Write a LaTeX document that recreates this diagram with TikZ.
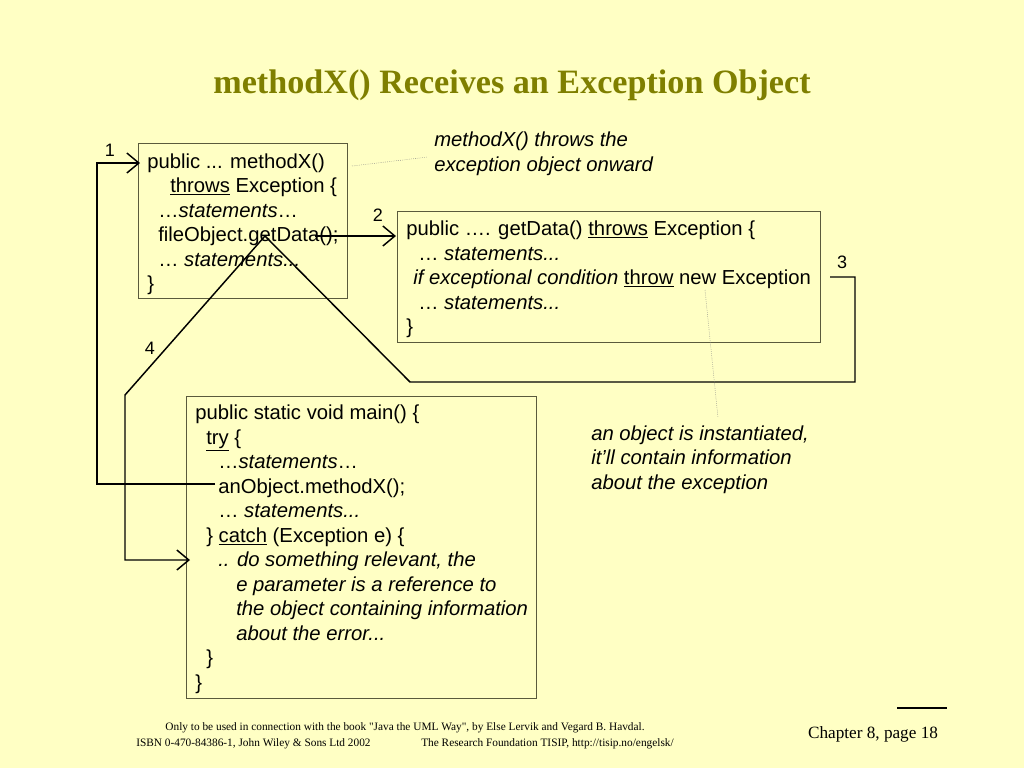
\documentclass[tikz,border=0pt]{standalone}
\usepackage{fontspec}
\setmainfont{Liberation Sans}
\newfontfamily\serif{Liberation Serif}
\usetikzlibrary{arrows.meta}
\definecolor{bg}{HTML}{FFFFC4}
\definecolor{ttl}{HTML}{7F7F00}
\definecolor{bx}{HTML}{5A5A3C}
\newcommand{\ul}[1]{\underline{#1}}
\begin{document}
\begin{tikzpicture}[x=0.75pt,y=-0.75pt,
  ln/.style={anchor=base west,inner sep=0pt,font=\fontsize{15.2}{17}\selectfont},
  box/.style={draw=bx,line width=0.6pt},
  conn/.style={line width=1.1pt,black},
  arr/.style={conn,-{Straight Barb[length=9pt,width=15pt,line width=1.1pt]}},
  dot/.style={densely dotted,line width=0.4pt,gray},
  num/.style={font=\fontsize{13.5}{15}\selectfont,inner sep=0pt}]
\fill[bg] (0,0) rectangle (1024,768);
\useasboundingbox (0,0) rectangle (1024,768);
\node[font=\serif\bfseries\fontsize{25.6}{30}\selectfont,text=ttl] (title) at (512,85) {methodX() Receives an Exception Object};
\draw[box] (138,143) rectangle (347,298);
\draw[box] (397,211) rectangle (820,342);
\draw[box] (186,396) rectangle (536,698);
% box1
\node[ln] (a1) at (147,168) {public ... methodX()};
\node[ln] (a2) at (170,192) {\ul{throws} Exception \{};
\node[ln] (a3) at (158,217) {\dots\textit{statements}\dots};
\node[ln] (a4) at (158,241) {fileObject.getData();};
\node[ln] (a5) at (158,266) {\dots\ \textit{statements...}};
\node[ln] (a6) at (147,290) {\}};
% box2
\node[ln] (b1) at (406,235) {public \dots. getData() \ul{throws} Exception \{};
\node[ln] (b2) at (418,260) {\dots\ \textit{statements...}};
\node[ln] (b3) at (413,284) {\textit{if exceptional condition} \ul{throw} new Exception};
\node[ln] (b4) at (418,309) {\dots\ \textit{statements...}};
\node[ln] (b5) at (406,333) {\}};
% box3
\node[ln] (c1) at (195,419) {public static void main() \{};
\node[ln] (c2) at (206,444) {\ul{try} \{};
\node[ln] (c3) at (218,468) {\dots\textit{statements}\dots};
\node[ln] (c4) at (218,493) {anObject.methodX();};
\node[ln] (c5) at (218,517) {\dots\ \textit{statements...}};
\node[ln] (c6) at (206,542) {\} \ul{catch} (Exception e) \{};
\node[ln] (c7) at (218,566) {\textit{.. do something relevant, the}};
\node[ln] (c8) at (236,591) {\textit{e parameter is a reference to}};
\node[ln] (c9) at (236,615) {\textit{the object containing information}};
\node[ln] (c10) at (236,640) {\textit{about the error...}};
\node[ln] (c11) at (206,664) {\}};
\node[ln] (c12) at (195,689) {\}};
% notes
\node[ln] (n1) at (434,146) {\textit{methodX() throws the}};
\node[ln] (n2) at (434,171) {\textit{exception object onward}};
\node[ln] (m1) at (591,440) {\textit{an object is instantiated,}};
\node[ln] (m2) at (591,464) {\textit{it’ll contain information}};
\node[ln] (m3) at (591,489) {\textit{about the exception}};
% numbers
\node[num] (k1) at (110,150) {1};
\node[num] (k2) at (378,215) {2};
\node[num] (k3) at (842,262) {3};
\node[num] (k4) at (150,348) {4};
% coordinates
\coordinate (p1s) at (215,484);
\coordinate (p1e) at (140,163);
\coordinate (p2s) at (315,236);
\coordinate (p2e) at (396,236);
\coordinate (p3s) at (830,277);
\coordinate (apex) at (265,236);
\coordinate (p3e) at (190,560);
\coordinate (d1s) at (352,166);
\coordinate (d1e) at (428,157);
\coordinate (d2s) at (705,290);
\coordinate (d2e) at (718,418);
\draw[arr] (p1s) -- (97,484) -- (97,163) -- (p1e);
\draw[arr] (p2s) -- (p2e);
\draw[arr] (p3s) -- (855,277) -- (855,382) -- (410,382) -- (apex) -- (125,395) -- (125,560) -- (p3e);
\draw[dot] (d1s) -- (d1e);
\draw[dot] (d2s) -- (d2e);
% footer
\node[font=\serif\fontsize{8.5}{10}\selectfont,inner sep=0pt] (f1) at (405,728) {Only to be used in connection with the book "Java the UML Way", by Else Lervik and Vegard B. Havdal.};
\node[font=\serif\fontsize{8.5}{10}\selectfont,inner sep=0pt,anchor=west] (f2) at (136,744) {ISBN 0-470-84386-1, John Wiley \& Sons Ltd 2002};
\node[font=\serif\fontsize{8.5}{10}\selectfont,inner sep=0pt,anchor=west] (f3) at (421,744) {The Research Foundation TISIP, http://tisip.no/engelsk/};
\node[font=\serif\fontsize{12.9}{15}\selectfont,inner sep=0pt] (ch) at (873,734) {Chapter 8, page 18};
\coordinate (hl1) at (897,708);
\coordinate (hl2) at (947,708);
\draw[line width=0.8pt] (hl1) -- (hl2);
\end{tikzpicture}
\end{document}
